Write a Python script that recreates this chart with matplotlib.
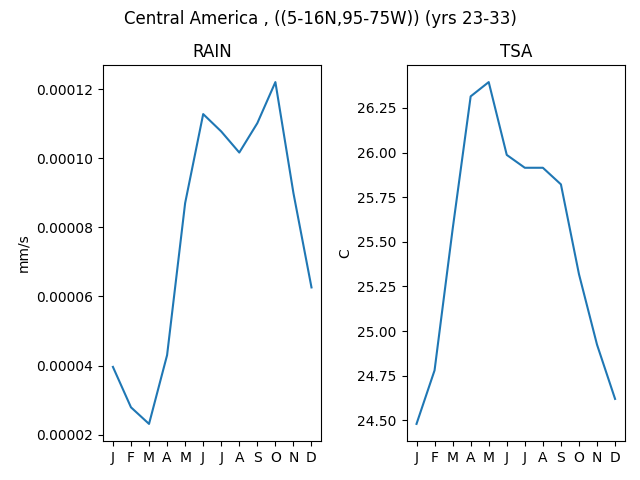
import matplotlib
matplotlib.use("Agg")
import matplotlib.pyplot as plt

months = ["J", "F", "M", "A", "M", "J", "J", "A", "S", "O", "N", "D"]
rain = [3.96e-5, 2.79e-5, 2.31e-5, 4.30e-5, 8.70e-5, 1.1277e-4,
        1.0774e-4, 1.0164e-4, 1.1015e-4, 1.2203e-4, 8.99e-5, 6.26e-5]
tsa = [24.48, 24.78, 25.57, 26.315, 26.395, 25.987,
       25.915, 25.915, 25.822, 25.319, 24.924, 24.62]

fig, (ax1, ax2) = plt.subplots(1, 2, figsize=(6.4, 4.8), dpi=100)
fig.suptitle("Central America , ((5-16N,95-75W)) (yrs 23-33)")
x = range(len(months))
ax1.plot(x, rain)
ax1.set_title("RAIN")
ax1.set_ylabel("mm/s")
ax1.set_xticks(list(x))
ax1.set_xticklabels(months)
ax2.plot(x, tsa)
ax2.set_title("TSA")
ax2.set_ylabel("C")
ax2.set_xticks(list(x))
ax2.set_xticklabels(months)
fig.subplots_adjust(left=103/640, right=625/640, top=1 - 65/480,
                    bottom=1 - 441/480, wspace=85/218)
fig.savefig("out.png")
